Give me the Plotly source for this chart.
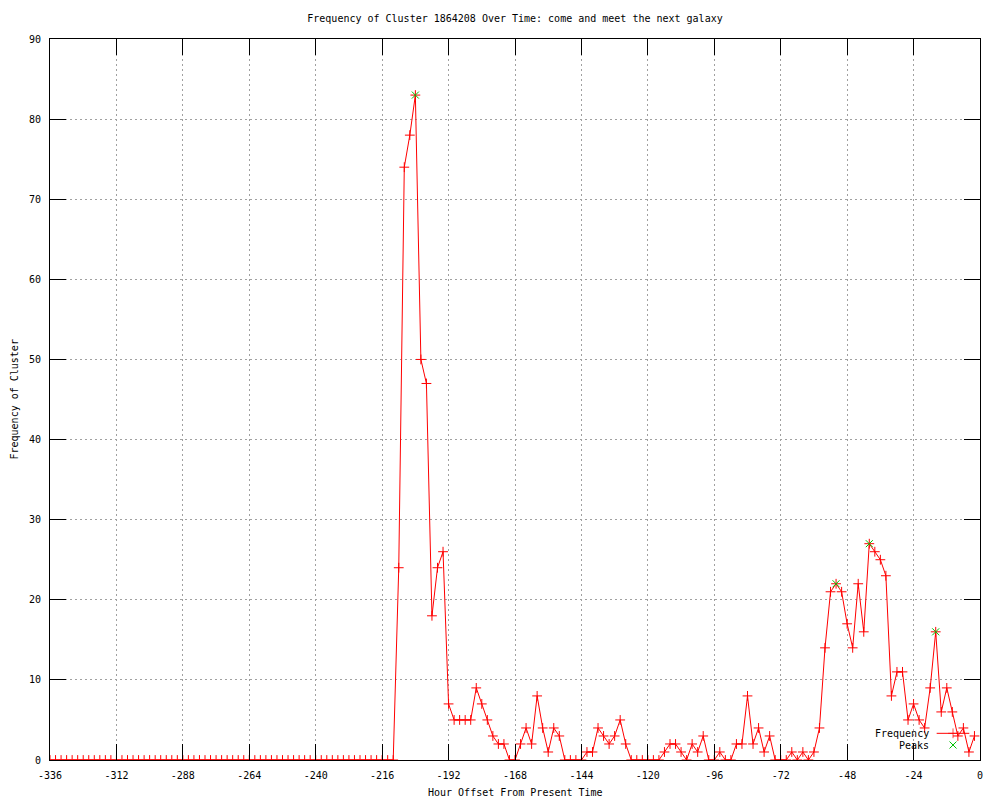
import plotly.graph_objects as go

# ---- data ----
hours = list(range(-336, 0, 2))
frequency = [
    0, 0, 0, 0, 0, 0, 0, 0, 0, 0, 0, 0, 0, 0, 0, 0, 0, 0, 0, 0, 0,
    0, 0, 0, 0, 0, 0, 0, 0, 0, 0, 0, 0, 0, 0, 0, 0, 0, 0, 0, 0, 0,
    0, 0, 0, 0, 0, 0, 0, 0, 0, 0, 0, 0, 0, 0, 0, 0, 0, 0, 0, 0, 0,
    24, 74, 78, 83, 50, 47, 18, 24, 26, 7,
    5, 5, 5, 5, 9, 7, 5, 3, 2, 2,
    0, 0, 2, 4, 2, 8, 4, 1, 4, 3,
    0, 0, 0, 0, 1, 1, 4, 3, 2, 3,
    5, 2, 0, 0, 0, 0, 0, 0, 1, 2,
    2, 1, 0, 2, 1, 3, 0, 0, 1, 0,
    0, 2, 2, 8, 2, 4, 1, 3, 0, 0,
    0, 1, 0, 1, 0, 1, 4, 14, 21, 22,
    21, 17, 14, 22, 16, 27, 26, 25, 23, 8,
    11, 11, 5, 7, 5, 4, 9, 16, 6, 9,
    6, 3, 4, 1, 3,
]
peak_hours = [-204, -52, -40, -16]
peak_values = [83, 22, 27, 16]

x_ticks = [-336, -312, -288, -264, -240, -216, -192, -168, -144, -120, -96, -72, -48, -24, 0]
x_tick_labels = ["-336", "-312", "-288", "-264", "-240", "-216", "-192", "-168",
                 "-144", "-120", "-96", "-72", "-48", "-24", "0"]
y_ticks = [0, 10, 20, 30, 40, 50, 60, 70, 80, 90]

title_text = "Frequency of Cluster 1864208 Over Time: come and meet the next galaxy"
x_title = "Hour Offset From Present Time"
y_title = "Frequency of Cluster"

# ---- style ----
RED = "#ff0000"
GREEN = "#00c000"
FONT = "DejaVu Sans Mono"
FIG_W, FIG_H = 992, 792   # page body has an 8px margin

fig = go.Figure()

fig.add_trace(go.Scatter(
    x=hours, y=frequency, mode="lines+markers", name="Frequency",
    line=dict(color=RED, width=1),
    marker=dict(symbol="cross-thin-open", size=7, color=RED, line=dict(color=RED, width=1)),
))
fig.add_trace(go.Scatter(
    x=peak_hours, y=peak_values, mode="markers", name="Peaks",
    marker=dict(symbol="x-thin-open", size=7, color=GREEN, line=dict(color=GREEN, width=1)),
))

# ---- gnuplot-style key (bottom right, text then sample) ----
kx_text = 0.9475
kx0, kx1, kxm = 0.9534, 0.9885, 0.971
ky1, ky2 = 0.037, 0.0208
fig.add_trace(go.Scatter(
    x=[kx0, kxm, kx1], y=[ky1, ky1, ky1], xaxis="x2", yaxis="y2",
    mode="lines+markers", showlegend=False, hoverinfo="skip",
    line=dict(color=RED, width=1),
    marker=dict(symbol="cross-thin-open", size=[0, 7, 0], color=RED,
                line=dict(color=RED, width=1)),
))
fig.add_trace(go.Scatter(
    x=[kxm], y=[ky2], xaxis="x2", yaxis="y2",
    mode="markers", showlegend=False, hoverinfo="skip",
    marker=dict(symbol="x-thin-open", size=7, color=GREEN, line=dict(color=GREEN, width=1)),
))

axis_common = dict(
    showline=True, linecolor="black", linewidth=1, mirror="allticks",
    ticks="inside", ticklen=16, tickwidth=1, tickcolor="black",
    showgrid=True, gridcolor="#a0a0a0", gridwidth=1, griddash="2px,3px",
    zeroline=False, tickfont=dict(family=FONT, size=10, color="black"),
    ticklabelstandoff=6,
)

fig.update_layout(
    width=FIG_W, height=FIG_H,
    margin=dict(l=42, r=20, t=31, b=40),
    paper_bgcolor="white", plot_bgcolor="white",
    font=dict(family=FONT, size=10, color="black"),
    showlegend=False,
    title=dict(text=title_text, x=(507) / FIG_W, xanchor="center", y=1 - 10 / FIG_H,
               yanchor="middle", yref="container",
               font=dict(family=FONT, size=10, color="black")),
    xaxis=dict(range=[-336, 0], tickvals=x_ticks, ticktext=x_tick_labels, **axis_common),
    yaxis=dict(range=[0, 90], tickvals=y_ticks, **axis_common),
    xaxis2=dict(overlaying="x", range=[0, 1], visible=False),
    yaxis2=dict(overlaying="y", range=[0, 1], visible=False),
    annotations=[
        dict(text=x_title, xref="paper", yref="paper", x=0.5, y=-0.0457,
             xanchor="center", yanchor="middle", showarrow=False,
             font=dict(family=FONT, size=10, color="black")),
        dict(text=y_title, xref="paper", yref="paper", x=-36 / 930, y=0.5,
             xanchor="center", yanchor="middle", textangle=-90, showarrow=False,
             font=dict(family=FONT, size=10, color="black")),
        dict(text="Frequency", xref="paper", yref="paper", x=kx_text, y=ky1,
             xanchor="right", yanchor="middle", showarrow=False,
             font=dict(family=FONT, size=10, color="black")),
        dict(text="Peaks", xref="paper", yref="paper", x=kx_text, y=ky2,
             xanchor="right", yanchor="middle", showarrow=False,
             font=dict(family=FONT, size=10, color="black")),
    ],
)

fig.write_html("out.html")
